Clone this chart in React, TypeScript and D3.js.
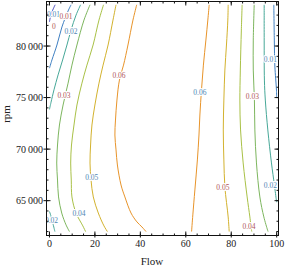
import React from "react";
import * as d3 from "d3";

// ---- data (flow, rpm) ----
const xTicks = [0, 20, 40, 60, 80, 100];
const yTicks = [65000, 70000, 75000, 80000];
const xMinor = d3.range(-0, 101, 5);
const yMinor = d3.range(62000, 84001, 1000);

const levelColors = ["#4545bd", "#3f80c2", "#47a898", "#7db65e", "#a9c146", "#d3b22e", "#e8942a"];

const c000 = [[2.5, 84000], [1.1, 83300], [0.3, 82700], [0, 82350]];
const c001L = [[9.5, 84000], [8.2, 83400], [5.5, 81850], [3.3, 80100], [1.1, 78650], [0, 77850]];
const c002L = [[13.7, 84000], [11.7, 83000], [9.5, 81550], [7.7, 80100], [5.8, 78650], [3.8, 77200], [2.0, 75750], [0.7, 74550], [0, 73850]];
const c002B = [[0, 63950], [0.6, 63550], [1.5, 62800], [2.4, 62000]];
const c003L = [[17.85, 84000], [15.2, 82520], [12.1, 80100], [9.9, 78150], [8.2, 76400], [6.0, 74280], [4.4, 72340], [3.55, 70400], [3.2, 68650], [3.55, 67000], [4.0, 65360], [5.4, 63800], [7.3, 62650], [8.8, 62000]];
const c004L = [[23.8, 84000], [21.8, 82520], [19.2, 80100], [16.5, 78150], [14.3, 76400], [12.1, 74280], [10.8, 72340], [9.7, 70400], [9.35, 68650], [9.6, 67000], [9.9, 65360], [11.7, 63800], [14.7, 62550], [15.9, 62000]];
const c005L = [[29.3, 84000], [27.96, 82520], [25.8, 80100], [23.6, 78150], [21.8, 76400], [20.0, 74280], [18.7, 72340], [18.1, 70400], [17.85, 68650], [18.3, 67000], [19.3, 65360], [21.5, 63800], [24.0, 62550], [25.5, 62000]];
const c006L = [[38.4, 84000], [36.75, 82520], [34.55, 80100], [32.6, 78150], [30.8, 76700], [29.7, 74760], [29.06, 72820], [28.8, 71370], [29.3, 69920], [29.9, 68460], [31.5, 66520], [33.2, 65360], [35.9, 63800], [38.5, 62940], [40.7, 62450], [42.5, 62000]];
const c006R = [[70.3, 84000], [69.7, 82520], [68.85, 80580], [67.75, 78150], [66.9, 75730], [66.2, 73310], [65.8, 71370], [65.1, 68950], [64.0, 66040], [63.1, 63620], [62.55, 62000]];
const c005R = [[78.65, 84000], [78.5, 82520], [77.9, 80100], [77.2, 77670], [76.76, 74760], [76.5, 71860], [76.76, 68950], [77.2, 66330], [78.65, 63420], [79.1, 62000]];
const c004R = [[84.8, 84000], [84.45, 81550], [84.0, 77670], [83.8, 74760], [84.1, 71860], [85.25, 68660], [87.0, 65360], [88.2, 63420], [88.9, 62160], [89.05, 62000]];
const c003R = [[90.1, 84000], [89.7, 80580], [89.7, 77670], [90.2, 74760], [90.4, 71860], [91.1, 68660], [92.6, 65360], [94.35, 63420], [95.97, 62160], [96.2, 62000]];
const c002R = [[94.5, 84000], [94.5, 80580], [94.6, 76700], [95.0, 74760], [96.1, 71860], [97.7, 68660], [99.0, 66520], [99.85, 65070], [100, 64850]];
const c001R = [[98.74, 84000], [98.96, 80580], [99.2, 78060], [99.9, 75730], [100, 74950]];

const contours = [
  { level: 0, pts: c000 },
  { level: 1, pts: c001L },
  { level: 2, pts: c002L },
  { level: 2, pts: c002B },
  { level: 3, pts: c003L },
  { level: 4, pts: c004L },
  { level: 5, pts: c005L },
  { level: 6, pts: c006L },
  { level: 6, pts: c006R },
  { level: 5, pts: c005R },
  { level: 4, pts: c004R },
  { level: 3, pts: c003R },
  { level: 2, pts: c002R },
  { level: 1, pts: c001R },
];

const labelTexts = ["0.01", "0.01", "0", "0.02", "0.03", "0.06", "0.06", "0.03", "0.01", "0.05", "0.04", "0.02", "0.05", "0.04", "0.02"];
const labelFlow = [1.8, 7.3, 2.0, 9.5, 6.4, 30.6, 66.2, 89.3, 97.2, 18.6, 13.0, 0.9, 76.3, 87.8, 97.2];
const labelRpm = [83100, 82910, 81940, 81385, 75220, 77190, 75540, 75150, 78700, 67270, 63780, 63130, 66300, 62550, 66520];
const labelTone = ["b", "r", "r", "b", "r", "r", "b", "r", "b", "b", "b", "b", "r", "r", "b"];

const W = 285;
const H = 269;
const L = 46.5, R = 278.5, T = 1.5, B = 235.5;

export default function App() {
  const x = d3.scaleLinear().domain([-1.3, 100.8]).range([L, R]);
  const y = d3.scaleLinear().domain([61620, 84320]).range([B, T]);
  const line = d3
    .line<number[]>()
    .x((d) => x(d[0]))
    .y((d) => y(d[1]))
    .curve(d3.curveCatmullRom.alpha(0.5));
  const font = "'Liberation Serif', 'Times New Roman', serif";
  const fmtY = (v: number) => {
    const s = String(v);
    return s.slice(0, s.length - 3) + "\u2009" + s.slice(s.length - 3);
  };
  return (
    <svg width={W} height={H} style={{ position: "absolute", left: 0, top: 0, display: "block" }}>
      <rect x={0} y={0} width={W} height={H} fill="#fff" />
      <defs>
        <clipPath id="plotclip">
          <rect x={L} y={T} width={R - L} height={B - T} />
        </clipPath>
      </defs>
      <g clipPath="url(#plotclip)">
        {contours.map((c, i) => (
          <path key={i} d={line(c.pts) || ""} fill="none" stroke={levelColors[c.level]} strokeWidth={1} />
        ))}
        {labelTexts.map((t, i) => (
          <text
            key={i}
            x={x(labelFlow[i])}
            y={y(labelRpm[i])}
            dy="0.35em"
            textAnchor="middle"
            fontFamily={font}
            fontSize={7.5}
            fill={labelTone[i] === "r" ? "#b0565a" : "#4f86b4"}
            stroke="#fff"
            strokeWidth={2.2}
            paintOrder="stroke"
          >
            {t}
          </text>
        ))}
      </g>
      {/* frame */}
      <rect x={L} y={T} width={R - L} height={B - T} fill="none" stroke="#111" strokeWidth={1} />
      {/* minor ticks */}
      {xMinor.map((v) => (
        <g key={"xm" + v}>
          <line x1={x(v)} x2={x(v)} y1={B} y2={B - 2} stroke="#111" />
          <line x1={x(v)} x2={x(v)} y1={T} y2={T + 2} stroke="#111" />
        </g>
      ))}
      {yMinor.map((v) => (
        <g key={"ym" + v}>
          <line x1={L} x2={L + 2} y1={y(v)} y2={y(v)} stroke="#111" />
          <line x1={R} x2={R - 2} y1={y(v)} y2={y(v)} stroke="#111" />
        </g>
      ))}
      {/* major ticks */}
      {xTicks.map((v) => (
        <g key={"x" + v}>
          <line x1={x(v)} x2={x(v)} y1={B + 2} y2={B - 4} stroke="#111" />
          <line x1={x(v)} x2={x(v)} y1={T} y2={T + 4} stroke="#111" />
          <text x={x(v)} y={247} textAnchor="middle" fontFamily={font} fontSize={10} fill="#222">
            {v}
          </text>
        </g>
      ))}
      {yTicks.map((v) => (
        <g key={"y" + v}>
          <line x1={L - 3} x2={L + 4} y1={y(v)} y2={y(v)} stroke="#111" />
          <line x1={R} x2={R - 4} y1={y(v)} y2={y(v)} stroke="#111" />
          <text x={43} y={y(v)} dy="0.35em" textAnchor="end" fontFamily={font} fontSize={10} fill="#222">
            {fmtY(v)}
          </text>
        </g>
      ))}
      <text x={152} y={265} textAnchor="middle" fontFamily={font} fontSize={11} fill="#222">
        Flow
      </text>
      <text transform="translate(10,114) rotate(-90)" textAnchor="middle" fontFamily={font} fontSize={11} fill="#222">
        rpm
      </text>
    </svg>
  );
}
